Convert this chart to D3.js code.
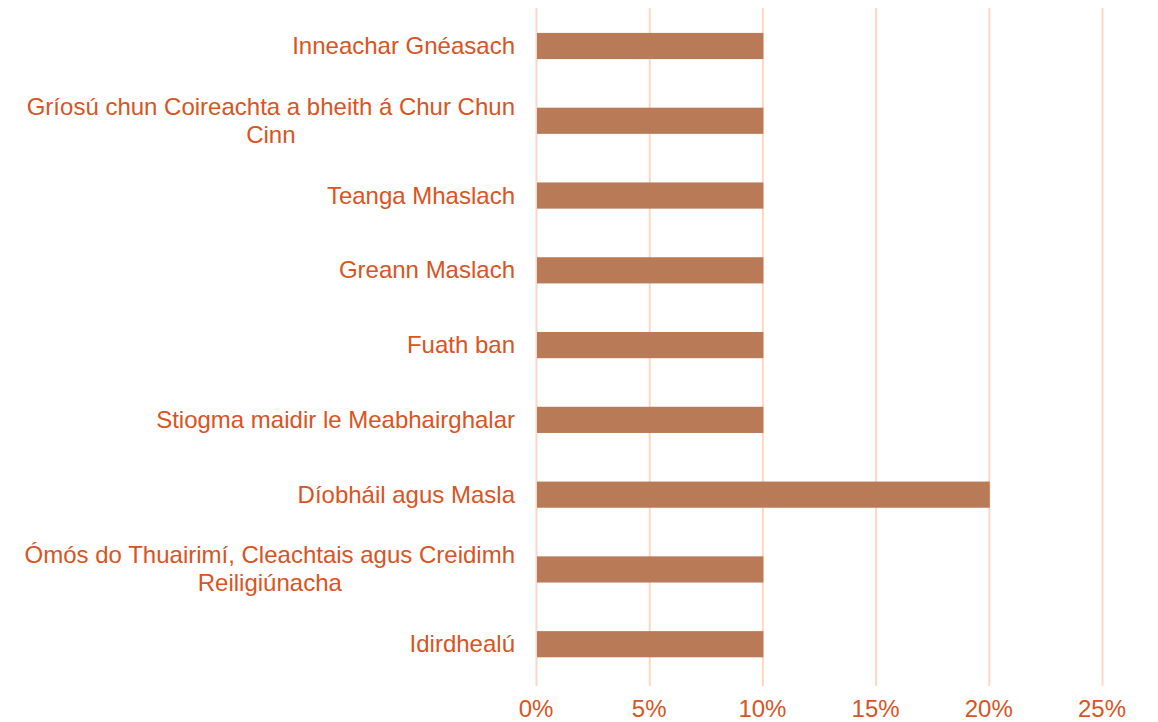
<!DOCTYPE html>
<html>
<head>
<meta charset="utf-8">
<script src="https://cdn.jsdelivr.net/npm/d3@7"></script>
<style>
  body { margin: 0; background: #ffffff; }
  svg text { font-family: "Liberation Sans", Arial, sans-serif; }
</style>
</head>
<body>
<div id="chart"></div>
<script>
(function () {
  // data

  const categories = [
    ["Inneachar Gnéasach"],
    ["Gríosú chun Coireachta a bheith á Chur Chun", "Cinn"],
    ["Teanga Mhaslach"],
    ["Greann Maslach"],
    ["Fuath ban"],
    ["Stiogma maidir le Meabhairghalar"],
    ["Díobháil agus Masla"],
    ["Ómós do Thuairimí, Cleachtais agus Creidimh", "Reiligiúnacha"],
    ["Idirdhealú"]
  ];
  const values = [0.10, 0.10, 0.10, 0.10, 0.10, 0.10, 0.20, 0.10, 0.10];
  const tickValues = [0, 0.05, 0.10, 0.15, 0.20, 0.25];

  // config

  const width = 1158;
  const height = 722;
  const textColor = "#d9541e";
  const barColor = "#b97a57";
  const gridColor = "#ffd6c6";

  const svg = d3.select("#chart")
    .append("svg")
    .attr("width", width)
    .attr("height", height);

  // scales

  const x = d3.scaleLinear()
    .domain([0, 0.25])
    .range([536, 1102]);

  const y = d3.scaleBand()
    .domain(d3.range(categories.length))
    .range([8.6, 681.6])
    .paddingInner(0.65)
    .paddingOuter(0.325);

  // gridlines

  svg.selectAll("line.grid")
    .data(tickValues)
    .enter()
    .append("line")
    .attr("class", "grid")
    .attr("x1", d => x(d) + 0.5)
    .attr("x2", d => x(d) + 0.5)
    .attr("y1", 8)
    .attr("y2", 686)
    .attr("stroke", gridColor)
    .attr("stroke-width", 2);

  // tick labels

  svg.selectAll("text.tick")
    .data(tickValues)
    .enter()
    .append("text")
    .attr("class", "tick")
    .attr("x", d => x(d))
    .attr("y", 717)
    .attr("text-anchor", "middle")
    .attr("font-size", 24)
    .attr("fill", textColor)
    .text(d => d3.format(".0%")(d));

  // bars

  svg.selectAll("rect.bar")
    .data(values)
    .enter()
    .append("rect")
    .attr("class", "bar")
    .attr("x", x(0) + 1)
    .attr("y", (d, i) => y(i))
    .attr("width", d => x(d) - x(0))
    .attr("height", y.bandwidth())
    .attr("fill", barColor);

  // category labels, wrapped lines centred inside a right-aligned block

  const labelRight = 515;
  const lineHeight = 28;

  categories.forEach(function (lines, i) {
    const cy = y(i) + y.bandwidth() / 2;
    const g = svg.append("g");
    const texts = lines.map(function (line, j) {
      return g.append("text")
        .attr("y", cy + (j - (lines.length - 1) / 2) * lineHeight + 8)
        .attr("font-size", 24)
        .attr("fill", textColor)
        .attr("text-anchor", "middle")
        .text(line);
    });
    const blockWidth = d3.max(texts, t => t.node().getComputedTextLength());
    texts.forEach(t => t.attr("x", labelRight - blockWidth / 2));
  });
})();
</script>
</body>
</html>
